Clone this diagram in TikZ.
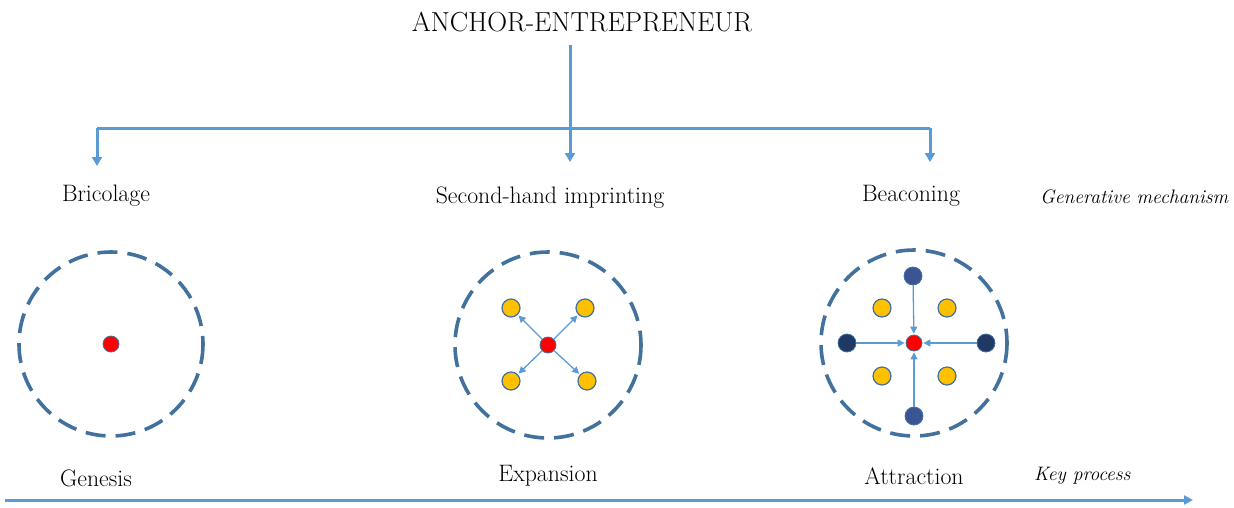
\documentclass[tikz,border=0pt]{standalone}
\usetikzlibrary{arrows.meta}
\definecolor{flow}{HTML}{5B9BD5}
\definecolor{ring}{HTML}{41719C}
\definecolor{gold}{HTML}{FFC000}
\definecolor{navy}{HTML}{1F3864}
\definecolor{midnavy}{HTML}{3A5591}
\begin{document}
\begin{tikzpicture}[x=1pt,y=-1pt,
  lbl/.style={font=\fontsize{23.8}{28}\selectfont, inner sep=0pt},
  ttl/.style={font=\fontsize{27.5}{32}\selectfont, inner sep=0pt},
  side/.style={font=\fontsize{19.5}{24}\selectfont\itshape, inner sep=0pt, anchor=west},
  trunk/.style={draw=flow, line width=3pt},
  drop/.style={draw=flow, line width=3pt, -{Triangle[length=9pt,width=10pt]}},
  zone/.style={draw=ring, line width=3.6pt, dash pattern=on 20pt off 10pt},
  core/.style={circle, fill=red, draw=ring, line width=0.8pt, minimum size=16pt, inner sep=0pt},
  firm/.style={circle, fill=gold, draw=ring, line width=1.2pt, minimum size=18pt, inner sep=0pt},
  far/.style={circle, fill=navy, draw=ring, line width=0.8pt, minimum size=18pt, inner sep=0pt},
  farlight/.style={far, fill=midnavy},
  link/.style={draw=flow, line width=1.3pt, -{Triangle[length=7pt,width=7pt]}, shorten >=1pt},
]
\useasboundingbox (0,0) rectangle (1234,507);

% top: anchor and its three branches
\node[ttl] (anchor) at (582,22) {ANCHOR-ENTREPRENEUR};
\coordinate (stem) at (570,45);
\coordinate (hub) at (570,128);
\coordinate (hl) at (97,128);
\coordinate (hr) at (930,128);
\coordinate (tl) at (97,166);
\coordinate (tm) at (570,162);
\coordinate (tr) at (930,162);
\draw[trunk] (stem) -- (hub);
\draw[trunk] (hl) -- (hr);
\draw[drop] (hl) -- (tl);
\draw[drop] (hub) -- (tm);
\draw[drop] (hr) -- (tr);

% generative mechanisms
\node[lbl] (bric) at (106,196) {Bricolage};
\node[lbl] (imprint) at (550,198) {Second-hand imprinting};
\node[lbl] (beacon) at (911,196) {Beaconing};
\node[side] (gen) at (1040,197) {Generative mechanism};

% genesis
\draw[zone] (111,344) circle (92);
\node[core] (c1) at (111,344) {};

% expansion
\draw[zone] (548,345) circle (93);
\node[core] (c2) at (548,345) {};
\node[firm] (e1) at (511,308) {};
\node[firm] (e2) at (585,308) {};
\node[firm] (e3) at (511,381) {};
\node[firm] (e4) at (587,381) {};
\foreach \f in {e1,e2,e3,e4} \draw[link] (c2) -- (\f);

% attraction
\draw[zone] (914,343) circle (93);
\node[core] (c3) at (914,343) {};
\node[firm] (a1) at (882,308) {};
\node[firm] (a2) at (947,308) {};
\node[firm] (a3) at (882,376) {};
\node[firm] (a4) at (947,376) {};
\node[farlight] (n1) at (913,276) {};
\node[far] (n2) at (847,343) {};
\node[far] (n3) at (986,343) {};
\node[farlight] (n4) at (914,416) {};
\foreach \f in {n1,n2,n3,n4} \draw[link] (\f) -- (c3);

% key processes along the timeline
\node[lbl] (gens) at (96,478) {Genesis};
\node[lbl] (expn) at (548,476) {Expansion};
\node[lbl] (attr) at (914,476) {Attraction};
\node[side] (key) at (1034,476) {Key process};
\coordinate (t0) at (5,500);
\coordinate (t1) at (1193,500);
\draw[draw=flow, line width=3pt, -{Triangle[length=9pt,width=9pt]}] (t0) -- (t1);
\end{tikzpicture}
\end{document}
